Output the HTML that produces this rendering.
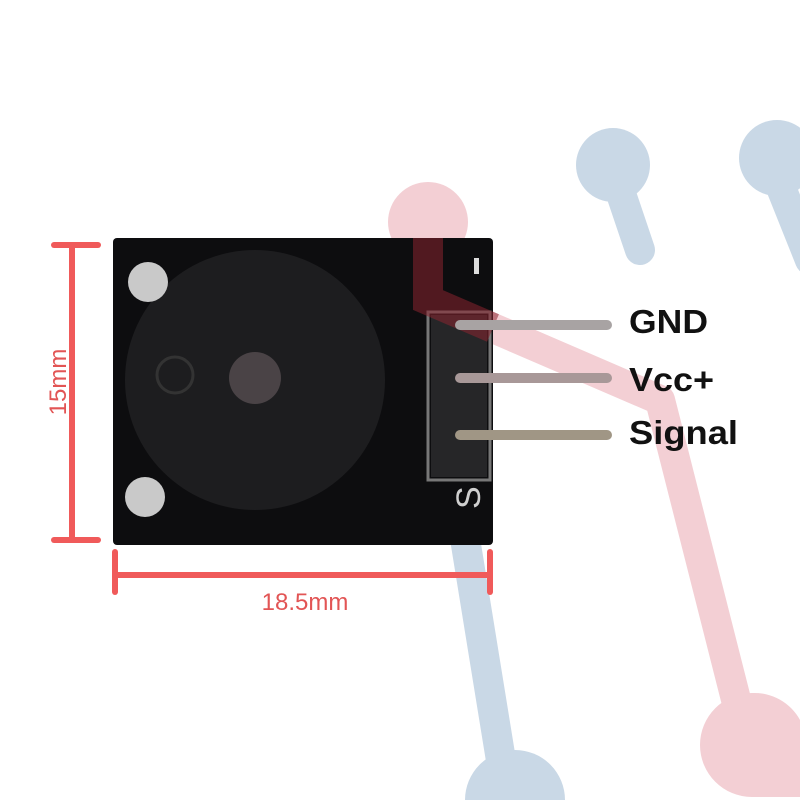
<!DOCTYPE html>
<html><head><style>html,body{margin:0;background:#fff;width:800px;height:800px;overflow:hidden}svg{display:block}</style></head><body>
<svg width="800" height="800" viewBox="0 0 800 800" xmlns="http://www.w3.org/2000/svg">
<rect width="800" height="800" fill="#fff"/>
<g stroke-linecap="round" fill="none">
<path d="M613,170 L640,250" stroke="#c9d8e6" stroke-width="30"/>
<path d="M770,160 L810,260" stroke="#c9d8e6" stroke-width="30"/>
<path d="M462,520 L505,785" stroke="#c9d8e6" stroke-width="30"/>
<path d="M428,220 L428,300 L660,400 L745,735" stroke="#f3cfd4" stroke-width="30" stroke-linejoin="round"/>
</g>
<circle cx="613" cy="165" r="37" fill="#c9d8e6"/>
<circle cx="777" cy="158" r="38" fill="#c9d8e6"/>
<path d="M465,800 A50,50 0 0 1 565,800 Z" fill="#c9d8e6"/>
<circle cx="428" cy="222" r="40" fill="#f3cfd4"/>
<path d="M752,693 A52,52 0 0 0 700,745 A52,52 0 0 0 752,797 L800,797 L800,720 A52,52 0 0 0 752,693 Z" fill="#f3cfd4"/>
<rect x="113" y="238" width="380" height="307" rx="4" fill="#0d0d0f"/>
<circle cx="255" cy="380" r="130" fill="#1d1d1f"/>
<circle cx="255" cy="378" r="26" fill="#4a4346"/>
<circle cx="148" cy="282" r="20" fill="#c9c9c9"/>
<circle cx="145" cy="497" r="20" fill="#c9c9c9"/>
<circle cx="175" cy="375" r="18" fill="none" stroke="#333" stroke-width="3"/>
<rect x="428" y="312" width="62" height="168" fill="none" stroke="#777" stroke-width="3"/>
<rect x="431" y="315" width="56" height="162" fill="#262628"/>
<text x="478" y="533" font-family="Liberation Sans" font-size="34" fill="#cfcfcf" transform="rotate(-90 467 520)">S</text>
<rect x="474" y="258" width="5" height="16" fill="#ddd"/>
<path d="M428,238 L428,300 L493,328" stroke="#8a2530" stroke-opacity="0.55" stroke-width="30" fill="none"/>
<rect x="455" y="320" width="157" height="10" rx="5" fill="#a8a3a3"/>
<rect x="455" y="373" width="157" height="10" rx="5" fill="#a89898"/>
<rect x="455" y="430" width="157" height="10" rx="5" fill="#a09685"/>
<g font-family="Liberation Sans" font-weight="bold" font-size="33" fill="#111">
<text x="629" y="333" textLength="79" lengthAdjust="spacingAndGlyphs">GND</text>
<text x="629" y="391" textLength="85" lengthAdjust="spacingAndGlyphs">Vcc+</text>
<text x="629" y="444" textLength="109" lengthAdjust="spacingAndGlyphs">Signal</text>
</g>
<g stroke="#f05a5a" stroke-width="6" stroke-linecap="round">
<line x1="72" y1="245" x2="72" y2="540"/>
<line x1="54" y1="245" x2="98" y2="245"/>
<line x1="54" y1="540" x2="98" y2="540"/>
<line x1="115" y1="575" x2="490" y2="575"/>
<line x1="115" y1="552" x2="115" y2="592"/>
<line x1="490" y1="552" x2="490" y2="592"/>
</g>
<text x="305" y="610" text-anchor="middle" font-family="Liberation Sans" font-size="24" fill="#e25555">18.5mm</text>
<text x="0" y="0" text-anchor="middle" font-family="Liberation Sans" font-size="24" fill="#e25555" transform="translate(66,382) rotate(-90)">15mm</text>
</svg>
</body></html>
